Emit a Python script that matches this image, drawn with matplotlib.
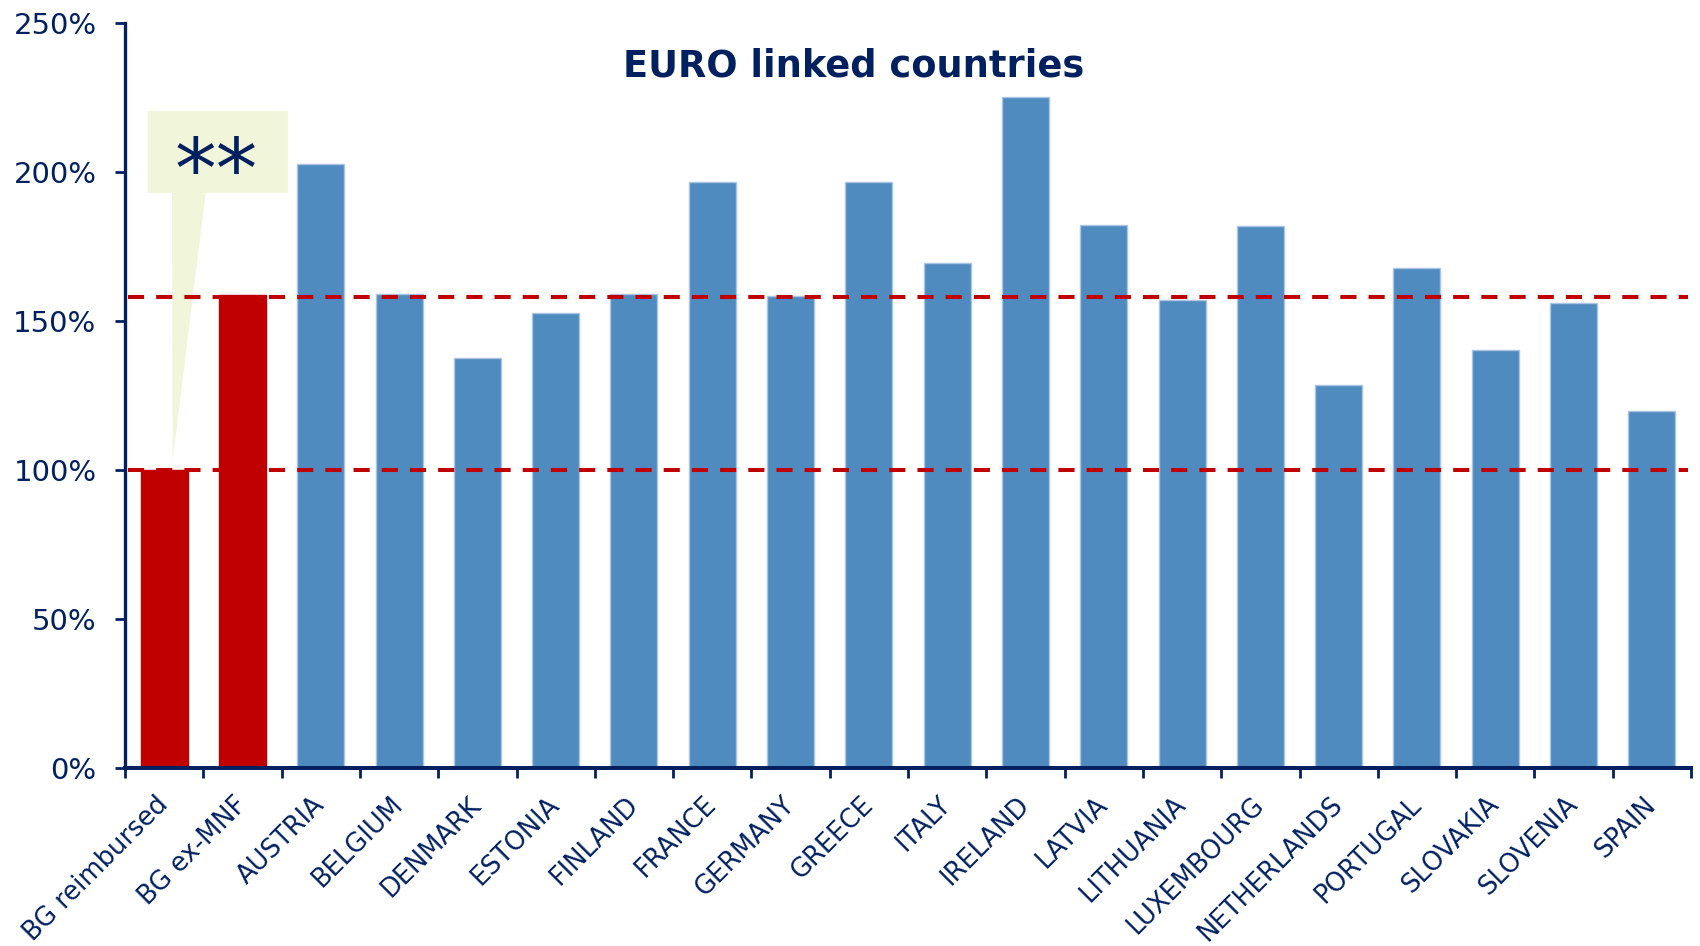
import matplotlib
matplotlib.use("Agg")
import matplotlib.pyplot as plt
from matplotlib.patches import Polygon
from matplotlib.transforms import ScaledTranslation
import numpy as np

# ---------------- data ----------------
categories = ["BG reimbursed", "BG ex-MNF", "AUSTRIA", "BELGIUM", "DENMARK",
              "ESTONIA", "FINLAND", "FRANCE", "GERMANY", "GREECE", "ITALY",
              "IRELAND", "LATVIA", "LITHUANIA", "LUXEMBOURG", "NETHERLANDS",
              "PORTUGAL", "SLOVAKIA", "SLOVENIA", "SPAIN"]
values = [100.0, 158.8, 202.7, 159.2, 137.5, 152.6, 159.2, 196.6, 158.4, 196.7,
          169.5, 225.3, 182.2, 157.0, 182.0, 128.4, 167.7, 140.3, 155.9, 119.8]
highlight = [True, True] + [False] * 18
ref_lines = [158.0, 100.0]
yticks = [0, 50, 100, 150, 200, 250]
ytick_labels = [f"{v}%" for v in yticks]
title = "EURO linked countries"
callout_text = "**"

# ---------------- style ----------------
NAVY = "#002060"
RED = "#C00000"
BLUE = "#4F8BBE"
BLUE_EDGE = "#A9C5E3"
CALLOUT = "#F1F5D9"

fig = plt.figure(figsize=(17, 9.46), dpi=100)
ax = fig.add_axes([125 / 1700, 1 - 768 / 946, 1566 / 1700, 745 / 946])

x = np.arange(len(categories))
colors = [RED if h else BLUE for h in highlight]
edges = [RED if h else BLUE_EDGE for h in highlight]
ax.bar(x, values, width=0.6, color=colors, edgecolor=edges, linewidth=1.0, zorder=2)

for v in ref_lines:
    ax.axhline(v, xmin=0.002, xmax=0.998, color=RED, lw=2.9,
               linestyle=(0, (4.0, 3.0)), zorder=4)

# callout shape anchored on the first bar
x0, v0 = x[0], values[0]
box = [(x0 - 0.21, v0 + 120.5), (x0 + 1.58, v0 + 120.5), (x0 + 1.58, v0 + 93.0),
       (x0 + 0.53, v0 + 93.0), (x0 + 0.11, v0 + 3.4), (x0 + 0.10, v0 + 93.0),
       (x0 - 0.21, v0 + 93.0)]
ax.add_patch(Polygon(box, closed=True, facecolor=CALLOUT, edgecolor="none", zorder=3))
ax.text(x0 + 0.66, v0 + 99.0, callout_text, color=NAVY, fontsize=60,
        ha="center", va="center", zorder=5)

ax.set_xlim(-0.5, len(categories) - 0.5)
ax.set_ylim(0, 250)

for s in ["top", "right"]:
    ax.spines[s].set_visible(False)
ax.spines["left"].set_color(NAVY)
ax.spines["left"].set_linewidth(2.4)
ax.spines["bottom"].set_color(NAVY)
ax.spines["bottom"].set_linewidth(2.9)

ax.set_yticks(yticks)
ax.set_yticklabels(ytick_labels)
ax.tick_params(axis="y", colors=NAVY, labelcolor=NAVY, labelsize=21,
               length=7.5, width=2.0, pad=13)

ax.set_xticks(x)
ax.set_xticks(np.arange(-0.5, len(categories), 1.0), minor=True)
ax.tick_params(axis="x", which="major", length=0, pad=17)
ax.tick_params(axis="x", which="minor", length=7, width=2.0, color=NAVY)
ax.set_xticklabels(categories, rotation=45, ha="right", va="top",
                   rotation_mode="anchor", fontsize=18.5, color=NAVY)
shift = ScaledTranslation(-9 / 100, 0, fig.dpi_scale_trans)
for lab in ax.get_xticklabels():
    lab.set_transform(lab.get_transform() + shift)

ax.text(0.4655, 0.942, title, transform=ax.transAxes, ha="center", va="center",
        fontsize=26.5, fontweight="bold", color=NAVY)

fig.savefig("out.png", dpi=100)
